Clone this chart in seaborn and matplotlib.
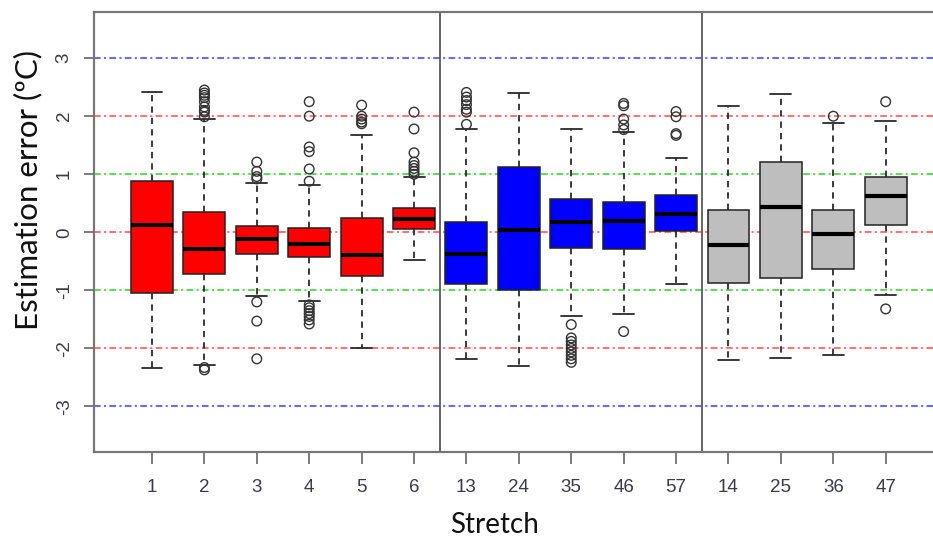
import matplotlib
matplotlib.use("Agg")
import matplotlib.pyplot as plt
import seaborn as sns
import pandas as pd
import numpy as np

# ---------------- data ----------------
stretches = ["1", "2", "3", "4", "5", "6", "13", "24", "35", "46", "57", "14", "25", "36", "47"]
groups = ["single"] * 6 + ["pair"] * 5 + ["triple"] * 4
whis_low = [-2.33, -2.28, -1.10, -1.18, -2.00, -0.47, -2.18, -2.30, -1.45, -1.41, -0.89, -2.20, -2.16, -2.12, -1.08]
q1 = [-1.04, -0.71, -0.38, -0.43, -0.76, 0.05, -0.89, -1.00, -0.27, -0.29, 0.02, -0.88, -0.78, -0.63, 0.13]
median = [0.13, -0.28, -0.12, -0.20, -0.39, 0.23, -0.38, 0.04, 0.17, 0.20, 0.31, -0.22, 0.44, -0.03, 0.62]
q3 = [0.89, 0.35, 0.10, 0.08, 0.25, 0.41, 0.18, 1.12, 0.57, 0.53, 0.64, 0.39, 1.21, 0.39, 0.95]
whis_high = [2.41, 1.95, 0.85, 0.82, 1.68, 0.95, 1.78, 2.40, 1.78, 1.73, 1.28, 2.17, 2.38, 1.88, 1.92]
outliers = [
    [],
    [2.45, 2.40, 2.36, 2.32, 2.25, 2.16, 2.10, 2.07, 1.99, -2.33, -2.37],
    [1.21, 1.05, 0.96, 0.92, -1.20, -1.53, -2.18],
    [2.25, 2.00, 1.47, 1.39, 1.09, 0.88, -1.25, -1.30, -1.35, -1.40, -1.45, -1.51, -1.58],
    [2.19, 2.00, 1.95, 1.90, 1.87],
    [2.07, 1.78, 1.37, 1.21, 1.15, 1.10, 1.05, 1.00],
    [2.41, 2.33, 2.27, 2.20, 2.12, 2.07, 1.86],
    [],
    [-1.59, -1.82, -1.88, -1.94, -2.00, -2.06, -2.12, -2.18, -2.24],
    [2.22, 2.18, 1.95, 1.85, 1.77, -1.71],
    [2.08, 1.99, 1.70, 1.67],
    [],
    [],
    [2.00],
    [2.25, -1.32],
]
group_colors = {"single": "#FF0000", "pair": "#0000FF", "triple": "#BEBEBE"}
ref_levels = [3, 2, 1, 0, -1, -2, -3]
ref_colors = ["#5050ff", "#ff5a5a", "#3ed83e", "#ff5a5a", "#3ed83e", "#ff5a5a", "#5050ff"]
separators = [5.5, 10.5]

# ---------------- style ----------------
sns.set_style("white")
plt.rcParams["font.family"] = ["Liberation Sans", "DejaVu Sans"]

W, H = 933, 539
fig = plt.figure(figsize=(W / 100, H / 100), dpi=100)
ax = fig.add_axes([94.3 / W, 87.3 / H, (936 - 94.3) / W, 439.4 / H])

# reference lines
for lvl, c in zip(ref_levels, ref_colors):
    ax.axhline(lvl, color=c, lw=1.5, ls=(0, (3.2, 1.6, 1.0, 1.6)), zorder=1, alpha=0.85)

# group separators
for s in separators:
    ax.axvline(s, color="#5a5a5a", lw=1.3, zorder=1)

positions = np.arange(len(stretches))
stats = []
for i in range(len(stretches)):
    stats.append(dict(med=median[i], q1=q1[i], q3=q3[i],
                      whislo=whis_low[i], whishi=whis_high[i], fliers=[]))

bp = ax.bxp(stats, positions=positions, widths=0.8, capwidths=0.4,
            patch_artist=True, showfliers=False, manage_ticks=False,
            boxprops=dict(edgecolor="#222222", linewidth=1.1),
            medianprops=dict(color="black", linewidth=3.0, solid_capstyle="butt"),
            whiskerprops=dict(color="#2a2a2a", linewidth=1.3, linestyle=(0, (3.5, 2.8))),
            capprops=dict(color="#2a2a2a", linewidth=1.3))
for patch, g in zip(bp["boxes"], groups):
    patch.set_facecolor(group_colors[g])
    patch.set_zorder(2)

# outliers
fl_pos, fl_val = [], []
for i, vals in enumerate(outliers):
    for v in vals:
        fl_pos.append(positions[i])
        fl_val.append(v)
df_out = pd.DataFrame({"pos": fl_pos, "val": fl_val})
sns.scatterplot(data=df_out, x="pos", y="val", ax=ax, marker="o", s=48,
                legend=False, zorder=3)
coll = ax.collections[-1]
coll.set_facecolor("none")
coll.set_edgecolor("#333333")
coll.set_linewidth(1.0)

ax.set_xlim(-1.101, 14.96)
ax.set_ylim(-3.78, 3.79)
ax.set_xticks(positions)
ax.set_xticklabels(stretches)
ax.set_yticks([-3, -2, -1, 0, 1, 2, 3])
ax.set_yticklabels(["-3", "-2", "-1", "0", "1", "2", "3"], rotation=90, va="center")
ax.set_xlabel("")
ax.set_ylabel("")

ax.tick_params(axis="x", which="major", bottom=True, length=8.4, width=1.2,
               color="#666666", labelsize=13.5, labelcolor="#3a3a48", pad=11)
ax.tick_params(axis="y", which="major", left=True, length=7.5, width=1.2,
               color="#666666", labelsize=13.5, labelcolor="#3a3a48", pad=8)

for side in ["left", "top", "bottom"]:
    ax.spines[side].set_color("#777777")
    ax.spines[side].set_linewidth(1.6)
ax.spines["right"].set_visible(False)

fig.text(495 / W, 1 - 525 / H, "Stretch", ha="center", va="center",
         fontsize=20, family=["Lato", "DejaVu Sans"], color="#111111")
fig.text(28 / W, 1 - 190 / H, "Estimation error (ºC)", ha="center", va="center",
         rotation=90, fontsize=22.5, family=["Lato", "DejaVu Sans"], color="#111111")

fig.savefig("out.png", dpi=100, facecolor="white")
